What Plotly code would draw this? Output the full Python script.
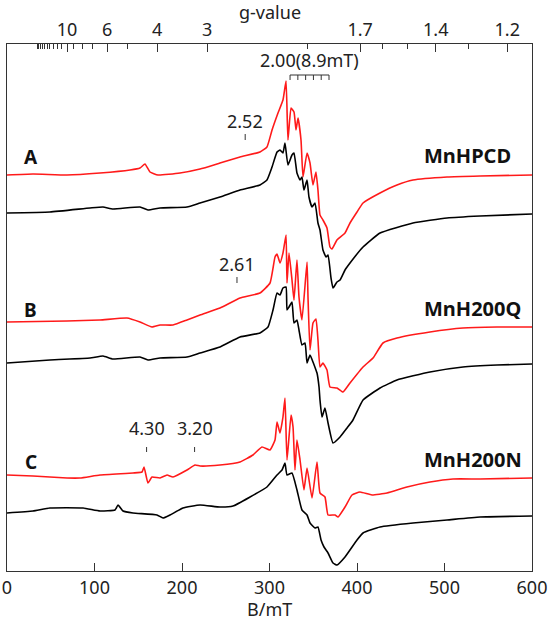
import plotly.graph_objects as go

# ---- data (B in mT, relative EPR intensity, arbitrary units) ----
A_red_B = [0, 29.7, 68.6, 106.3, 140.6, 152, 157.7, 163.4, 172.6, 197.7, 220.6, 243.4, 266.3, 289.1, 297.1,
           302.9, 309.7, 315.4, 318.9, 321.1, 324.6, 328, 330.3, 332.6, 336, 338.3, 342.9, 346.3, 349.7, 353.1,
           355.4, 357.7, 361.1, 365.7, 369.1, 371.4, 377.1, 386.3, 392, 400, 406.9, 426.3, 445.7, 464, 502.9,
           540.6, 600]
A_red_I = [0, 1, 0, 2, 5, 7, 11, 3, 0, 2, 6, 12, 18, 23, 28,
           45, 62, 75, 94, 35, 67, 63, 45, 57, 35, -2, 22, 12, -10, 3,
           -15, -40, -45, -53, -72, -74, -65, -58, -48, -37, -28, -18, -10, -5, -2,
           -1, 0]

A_blk_B = [0, 49.1, 94.9, 109.7, 121.1, 152, 161.1, 174.9, 205.7, 220.6, 243.4, 266.3, 289.1, 297.1, 302.9,
           308.6, 312, 315.4, 317.7, 321.1, 325.7, 328, 331.4, 334.9, 337.1, 339.4, 342.9, 345.1, 348.6, 352,
           355.4, 357.7, 361.1, 364.6, 366.9, 370.3, 372.6, 377.1, 380.6, 386.3, 392, 406.9, 426.3, 464, 502.9,
           540.6, 600]
A_blk_I = [0, 1, 5, 6, 4, 6, 3, 5, 6, 10, 16, 23, 28, 33, 46,
           61, 63, 60, 70, 48, 58, 60, 40, 33, 36, 23, 33, 16, 6, 10,
           -10, -17, -37, -44, -42, -65, -75, -69, -67, -57, -50, -34, -20, -10, -5,
           -3, -1]

B_red_B = [0, 68.6, 106.3, 137.1, 152, 165.7, 174.9, 189.7, 205.7, 220.6, 243.4, 266.3, 289.1, 300.6, 306.3,
           308.6, 312, 315.4, 318.9, 320, 322.3, 325.7, 328, 331.4, 333.7, 337.1, 342.9, 344, 346.3, 349.7,
           353.1, 355.4, 357.7, 361.1, 365.7, 369.1, 377.1, 384, 392, 406.9, 418.3, 429.7, 445.7, 483.4, 521.1,
           560, 600]
B_red_I = [0, 1, 2, 4, 0, -5, -3, -3, 2, 7, 14, 24, 29, 39, 65,
           68, 59, 69, 87, 39, 69, 42, 22, 62, 25, 2, 60, 25, -28, -1,
           3, -18, -45, -41, -48, -65, -66, -70, -61, -45, -36, -21, -16, -10, -6,
           -5, -5]

B_blk_B = [0, 49.1, 94.9, 109.7, 121.1, 152, 161.1, 174.9, 205.7, 220.6, 243.4, 266.3, 289.1, 298.3, 304,
           308.6, 312, 315.4, 318.9, 320, 322.3, 325.7, 328, 331.4, 333.7, 337.1, 340.6, 342.9, 346.3, 349.7,
           353.1, 354.3, 356.6, 357.7, 360, 363.4, 366.9, 372.6, 380.6, 388.6, 395.4, 406.9, 426.3, 445.7, 483.4,
           521.1, 560, 600]
B_blk_I = [0, 3, 5, 7, 4, 6, 3, 5, 6, 10, 16, 26, 30, 36, 53,
           70, 68, 75, 76, 53, 56, 61, 40, 43, 33, 18, 20, 0, 8, 1,
           -7, -10, -24, -37, -54, -45, -60, -80, -74, -65, -57, -37, -25, -17, -9,
           -4, -2, -1]

C_red_B = [0, 29.7, 68.6, 83.4, 106.3, 144, 154.3, 156.6, 161.1, 165.7, 174.9, 182.9, 189.7, 205.7, 214.9,
           220.6, 243.4, 266.3, 281.1, 291.4, 300.6, 306.3, 308.6, 312, 315.4, 317.7, 320, 324.6, 326.9, 329.1,
           331.4, 334.9, 339.4, 342.9, 348.6, 354.3, 357.7, 363.4, 366.9, 374.9, 378.3, 386.3, 394.3, 403.4, 417.1,
           434.3, 457.1, 483.4, 509.7, 540.6, 600]
C_red_I = [0, -1, -3, -3, 0, 2, 3, 8, -8, -2, -3, 0, -2, 5, 10,
           9, 10, 13, 20, 28, 25, 35, 53, 42, 58, 77, 15, 60, 48, 5,
           35, 15, -15, 7, -23, 13, -18, -22, -40, -40, -42, -32, -20, -17, -20,
           -18, -12, -7, -4, -4, -3]

C_blk_B = [0, 29.7, 49.1, 86.9, 106.3, 123.4, 126.9, 132.6, 144, 171.4, 178.3, 186.3, 201.1, 220.6, 243.4,
           258.3, 277.7, 297.1, 308.6, 314.3, 317.7, 320, 325.7, 331.4, 337.1, 342.9, 346.3, 352, 355.4, 358.9,
           362.3, 366.9, 372.6, 377.1, 386.3, 400, 406.9, 426.3, 464, 502.9, 540.6, 600]
C_blk_I = [0, 2, 5, 5, 2, 3, 8, 2, 0, -2, -5, -2, 5, 8, 6,
           7, 16, 26, 38, 43, 50, 38, 40, 23, 3, -2, -10, -15, -14, -27,
           -34, -40, -50, -52, -44, -27, -20, -14, -10, -7, -4, -3]

# vertical offsets of each spectrum (stacking)
offsets = {"A_red": 396, "A_blk": 358, "B_red": 249, "B_blk": 208, "C_red": 96, "C_blk": 58}

panel_letters = ["A", "B", "C"]
panel_letter_y = [414, 261, 109]
sample_names = ["MnHPCD", "MnH200Q", "MnH200N"]
sample_name_y = [416, 263, 112]

# g-value axis
G_CONST = 686.0  # B(mT) * g  (X-band, ~9.6 GHz)
g_major = [10, 6, 4, 3, 1.7, 1.4, 1.2]
g_major_text = ["10", "6", "4", "3", "1.7", "1.4", "1.2"]
g_minor = [20, 19, 18, 17, 16, 15, 14, 13, 12, 11, 9, 8, 7, 5, 2, 1.6, 1.5, 1.3]

# marked g-values
g_marks = ["2.52", "2.61", "4.30", "3.20"]
g_mark_text_y = [450, 307, 143, 143]
g_mark_tick_y = [(431, 437), (288, 294), (119, 124), (119, 124)]

# hyperfine bracket
hf_start = 323.5
hf_spacing = 8.9
hf_n = 6
hf_y = 496

RED = "#ff1a1a"
BLACK = "#000000"
FONT = "Noto Sans"

fig = go.Figure()
series = [
    (A_red_B, A_red_I, offsets["A_red"], RED),
    (A_blk_B, A_blk_I, offsets["A_blk"], BLACK),
    (B_red_B, B_red_I, offsets["B_red"], RED),
    (B_blk_B, B_blk_I, offsets["B_blk"], BLACK),
    (C_red_B, C_red_I, offsets["C_red"], RED),
    (C_blk_B, C_blk_I, offsets["C_blk"], BLACK),
]
for xs, ys, off, col in series:
    fig.add_trace(go.Scatter(x=xs, y=[v + off for v in ys], mode="lines",
                             line=dict(color=col, width=1.6, shape="spline", smoothing=0.4),
                             showlegend=False, hoverinfo="skip"))

# invisible trace on top axis so xaxis2 is drawn
fig.add_trace(go.Scatter(x=[0, 600], y=[0, 0], xaxis="x2", mode="lines",
                         line=dict(width=0), showlegend=False, hoverinfo="skip"))

annotations = []
for lt, ly in zip(panel_letters, panel_letter_y):
    annotations.append(dict(x=27, y=ly, text=f"<b>{lt}</b>", showarrow=False,
                            font=dict(size=19, color="#111", family=FONT), xanchor="center", yanchor="middle"))
for nm, ny in zip(sample_names, sample_name_y):
    annotations.append(dict(x=474, y=ny, text=f"<b>{nm}</b>", showarrow=False,
                            font=dict(size=20, color="#111", family=FONT), xanchor="left", yanchor="middle"))
shapes = []
for gt, ty, (t0, t1) in zip(g_marks, g_mark_text_y, g_mark_tick_y):
    bx = G_CONST / float(gt)
    annotations.append(dict(x=bx, y=ty, text=gt, showarrow=False,
                            font=dict(size=18, color="#222", family=FONT), xanchor="center", yanchor="middle"))
    shapes.append(dict(type="line", x0=bx, x1=bx, y0=t0, y1=t1, xref="x", yref="y",
                       line=dict(color="#333", width=1)))

hf_pos = [hf_start + k * hf_spacing for k in range(hf_n)]
shapes.append(dict(type="line", x0=hf_pos[0], x1=hf_pos[-1], y0=hf_y, y1=hf_y, xref="x", yref="y",
                   line=dict(color="#333", width=1)))
for p in hf_pos:
    shapes.append(dict(type="line", x0=p, x1=p, y0=hf_y, y1=hf_y - 5, xref="x", yref="y",
                       line=dict(color="#333", width=1)))
annotations.append(dict(x=(hf_pos[0] + hf_pos[-1]) / 2, y=511, text="2.00(8.9mT)", showarrow=False,
                        font=dict(size=18, color="#222", family=FONT), xanchor="center", yanchor="middle"))

# axis titles as annotations (precise placement)
annotations.append(dict(x=0.5, y=1, xref="paper", yref="paper", text="g-value", showarrow=False,
                        font=dict(size=18, color="#222", family=FONT), xanchor="center", yanchor="middle",
                        yshift=32))
annotations.append(dict(x=0.5, y=0, xref="paper", yref="paper", text="B/mT", showarrow=False,
                        font=dict(size=18, color="#222", family=FONT), xanchor="center", yanchor="middle",
                        yshift=-38))

fig.update_layout(
    width=550, height=621,
    margin=dict(l=7, r=18, t=44, b=50),
    paper_bgcolor="white", plot_bgcolor="white",
    font=dict(family=FONT, size=18, color="#222"),
    xaxis=dict(range=[0, 600], tickvals=[0, 100, 200, 300, 400, 500, 600],
               ticks="inside", ticklen=8, tickcolor="#333", showline=True, linecolor="#333", linewidth=1,
               showgrid=False, zeroline=False, automargin=False,
               tickfont=dict(size=18, family=FONT, color="#222")),
    xaxis2=dict(range=[0, 600], overlaying="x", side="top",
                tickmode="array", tickvals=[G_CONST / g for g in g_major], ticktext=g_major_text,
                ticks="inside", ticklen=8, tickcolor="#333",
                minor=dict(tickmode="array", tickvals=[G_CONST / g for g in g_minor],
                           ticks="inside", ticklen=5, tickcolor="#333"),
                showline=True, linecolor="#333", linewidth=1, showgrid=False, zeroline=False,
                automargin=False,
                tickfont=dict(size=18, family=FONT, color="#222")),
    yaxis=dict(range=[0, 527], showticklabels=False, ticks="", showgrid=False, zeroline=False,
               showline=True, mirror=True, linecolor="#333", linewidth=1, automargin=False),
    annotations=annotations,
    shapes=shapes,
)

fig.write_html("out.html", config={"displayModeBar": False},
               post_script="document.body.style.margin='0';")
